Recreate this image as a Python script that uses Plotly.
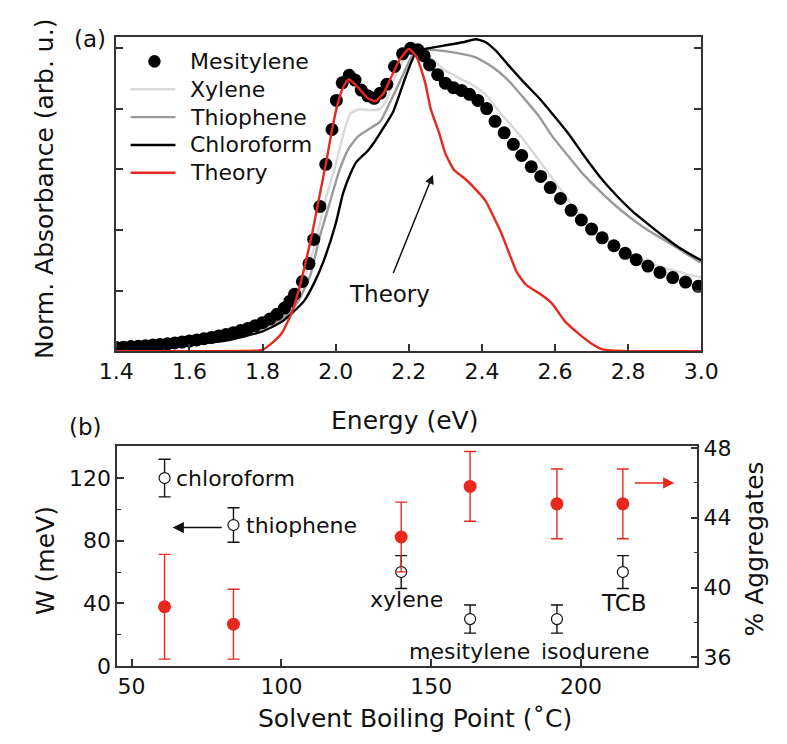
import plotly.graph_objects as go

FONT = "DejaVu Sans, Liberation Sans, Arial, sans-serif"
TXT = "#111111"
RED = "#e8281e"
XYL_C = "#d9d9d9"
THI_C = "#9a9a9a"
CHL_C = "#000000"

# ---------------- Panel (a): normalized absorbance spectra ----------------
mes_E = [1.40, 1.42, 1.44, 1.46, 1.48, 1.50, 1.52, 1.54, 1.56, 1.58, 1.60, 1.62,
         1.64, 1.66, 1.68, 1.70, 1.72, 1.74, 1.76, 1.78, 1.80, 1.82, 1.84, 1.86,
         1.875, 1.888, 1.909, 1.927, 1.940, 1.957, 1.973, 1.990, 2.002, 2.018,
         2.037, 2.053, 2.070, 2.088, 2.105, 2.122, 2.140, 2.161, 2.183, 2.205,
         2.225, 2.242, 2.257, 2.279, 2.300, 2.322, 2.344, 2.366, 2.389, 2.413,
         2.436, 2.461, 2.486, 2.509, 2.535, 2.561, 2.587, 2.615, 2.644, 2.672,
         2.700, 2.729, 2.761, 2.792, 2.822, 2.854, 2.887, 2.922, 2.957, 2.992]
mes_A = [0.012, 0.013, 0.015, 0.016, 0.018, 0.020, 0.022, 0.024, 0.027, 0.030, 0.033, 0.037,
         0.041, 0.045, 0.050, 0.055, 0.061, 0.068, 0.075, 0.084, 0.094, 0.106, 0.122, 0.142,
         0.165, 0.188, 0.230, 0.289, 0.369, 0.478, 0.617, 0.732, 0.828, 0.886,
         0.911, 0.895, 0.862, 0.843, 0.835, 0.852, 0.881, 0.940, 0.982, 1.000,
         0.995, 0.975, 0.945, 0.913, 0.885, 0.870, 0.861, 0.848, 0.828, 0.801,
         0.759, 0.721, 0.683, 0.646, 0.609, 0.577, 0.540, 0.504, 0.465, 0.433,
         0.403, 0.374, 0.348, 0.323, 0.302, 0.281, 0.260, 0.243, 0.228, 0.214]

xyl_E = [1.40, 1.50, 1.60, 1.70, 1.80, 1.85, 1.88, 1.90, 1.92, 1.94, 1.974, 2.000,
         2.022, 2.040, 2.062, 2.096, 2.122, 2.140, 2.157, 2.192, 2.220, 2.250, 2.296,
         2.348, 2.374, 2.409, 2.452, 2.513, 2.550, 2.592, 2.644, 2.696, 2.765, 2.852,
         2.939, 2.992, 3.000]
xyl_A = [0.010, 0.017, 0.028, 0.045, 0.080, 0.110, 0.145, 0.190, 0.260, 0.337, 0.508, 0.614,
         0.721, 0.785, 0.798, 0.796, 0.800, 0.830, 0.890, 0.975, 0.998, 0.980, 0.930,
         0.895, 0.880, 0.849, 0.785, 0.700, 0.640, 0.572, 0.486, 0.412, 0.348, 0.294,
         0.262, 0.246, 0.245]

thi_E = [1.40, 1.50, 1.60, 1.70, 1.80, 1.85, 1.88, 1.90, 1.931, 1.957, 1.983, 2.009,
         2.035, 2.062, 2.096, 2.122, 2.140, 2.174, 2.209, 2.230, 2.262, 2.330, 2.383,
         2.427, 2.470, 2.513, 2.557, 2.592, 2.635, 2.679, 2.722, 2.765, 2.809, 2.852,
         2.896, 2.939, 2.992, 3.000]
thi_A = [0.009, 0.015, 0.025, 0.040, 0.075, 0.105, 0.135, 0.170, 0.252, 0.380, 0.486, 0.593,
         0.668, 0.710, 0.737, 0.758, 0.800, 0.886, 0.975, 0.995, 0.995, 0.985, 0.970,
         0.940, 0.897, 0.838, 0.774, 0.710, 0.646, 0.582, 0.529, 0.481, 0.438, 0.401,
         0.369, 0.337, 0.297, 0.293]

chl_E = [1.40, 1.50, 1.60, 1.70, 1.80, 1.85, 1.88, 1.914, 1.94, 1.966, 2.000, 2.020,
         2.040, 2.057, 2.088, 2.105, 2.122, 2.157, 2.192, 2.218, 2.244, 2.296, 2.348,
         2.383, 2.410, 2.440, 2.470, 2.513, 2.557, 2.592, 2.635, 2.679, 2.722, 2.765,
         2.809, 2.852, 2.896, 2.939, 2.992, 3.000]
chl_A = [0.008, 0.014, 0.022, 0.035, 0.065, 0.095, 0.125, 0.166, 0.222, 0.294, 0.420, 0.520,
         0.585, 0.625, 0.662, 0.689, 0.721, 0.790, 0.908, 0.982, 0.998, 1.009, 1.020,
         1.030, 1.020, 0.990, 0.948, 0.890, 0.835, 0.785, 0.721, 0.646, 0.577, 0.518,
         0.465, 0.422, 0.380, 0.342, 0.305, 0.300]

th_E = [1.40, 1.60, 1.78, 1.80, 1.827, 1.853, 1.879, 1.896, 1.914, 1.936, 1.957, 1.975,
        1.990, 2.005, 2.020, 2.036, 2.062, 2.088, 2.109, 2.130, 2.154, 2.174, 2.200,
        2.221, 2.245, 2.260, 2.284, 2.300, 2.323, 2.357, 2.390, 2.410, 2.453, 2.495,
        2.520, 2.558, 2.592, 2.626, 2.662, 2.696, 2.730, 2.800, 3.000]
th_A = [0.000, 0.000, 0.001, 0.004, 0.028, 0.060, 0.124, 0.188, 0.273, 0.390, 0.520, 0.630,
        0.730, 0.815, 0.870, 0.898, 0.870, 0.835, 0.826, 0.850, 0.910, 0.960, 0.998,
        0.973, 0.886, 0.800, 0.717, 0.653, 0.600, 0.566, 0.525, 0.496, 0.390, 0.262,
        0.220, 0.190, 0.157, 0.100, 0.060, 0.028, 0.006, 0.000, 0.000]

legend_names = ["Mesitylene", "Xylene", "Thiophene", "Chloroform", "Theory"]

# ---------------- Panel (b): W and % aggregates vs boiling point ----------------
solvents = ["chloroform", "thiophene", "xylene", "mesitylene", "isodurene", "TCB"]
bp = [61, 84, 140, 163, 192, 214]
W = [120, 90, 60, 30, 30, 60]
W_err = [12, 11, 10.5, 9, 9, 10.5]
agg = [38.9, 37.9, 42.9, 45.8, 44.8, 44.8]
agg_err = [3.0, 2.0, 2.0, 2.0, 2.0, 2.0]

fig = go.Figure()

line_w = 2.4
fig.add_trace(go.Scatter(x=xyl_E, y=xyl_A, mode="lines", name="Xylene",
                         line=dict(color=XYL_C, width=line_w, shape="spline", smoothing=0.5)))
fig.add_trace(go.Scatter(x=thi_E, y=thi_A, mode="lines", name="Thiophene",
                         line=dict(color=THI_C, width=line_w, shape="spline", smoothing=0.5)))
fig.add_trace(go.Scatter(x=chl_E, y=chl_A, mode="lines", name="Chloroform",
                         line=dict(color=CHL_C, width=line_w, shape="spline", smoothing=0.5)))
fig.add_trace(go.Scatter(x=mes_E, y=mes_A, mode="markers", name="Mesitylene",
                         marker=dict(color="#000000", size=13, line=dict(width=0))))
fig.add_trace(go.Scatter(x=th_E, y=th_A, mode="lines", name="Theory",
                         line=dict(color=RED, width=line_w, shape="spline", smoothing=0.5)))

# panel (b)
fig.add_trace(go.Scatter(x=bp, y=W, mode="markers", xaxis="x2", yaxis="y2", name="W",
                         marker=dict(symbol="circle", size=11, color="white",
                                     line=dict(color="#111111", width=1.2)),
                         error_y=dict(type="data", array=W_err, color="#111111",
                                      thickness=1.4, width=6)))
fig.add_trace(go.Scatter(x=bp, y=agg, mode="markers", xaxis="x2", yaxis="y3", name="% Aggregates",
                         marker=dict(symbol="circle", size=13, color=RED, line=dict(width=0)),
                         error_y=dict(type="data", array=agg_err, color=RED,
                                      thickness=1.4, width=6)))

axcol = "#333333"
common = dict(showgrid=False, zeroline=False, showline=True, linecolor=axcol, linewidth=1.5,
              ticks="inside", tickcolor=axcol, tickwidth=1.5, ticklen=7,
              tickfont=dict(family=FONT, size=22, color=TXT))

W_px, H_px = 787, 744
def px(x):
    return x / W_px
def py(y):
    return 1 - y / H_px

fig.update_layout(
    width=W_px, height=H_px,
    margin=dict(l=0, r=0, t=0, b=0),
    paper_bgcolor="white", plot_bgcolor="white",
    font=dict(family=FONT, color=TXT),
    showlegend=False,
    xaxis=dict(domain=[px(103), px(716)], range=[1.4, 3.0], anchor="y",
               tick0=1.4, dtick=0.2, tickformat=".1f", mirror=True, **common),
    yaxis=dict(domain=[py(352), py(28)], range=[0, 1.037], anchor="x",
               tickvals=[0, 0.2, 0.4, 0.6, 0.8, 1.0], showticklabels=False,
               mirror="ticks", **common),
    xaxis2=dict(domain=[px(104), px(712)], range=[45.2, 238.9], anchor="y2",
                tickvals=[50, 100, 150, 200], mirror=True, **common),
    yaxis2=dict(domain=[py(677), py(450)], range=[0, 140.4], anchor="x2",
                tickvals=[0, 40, 80, 120],
                minor=dict(tickvals=[20, 60, 100], ticks="inside", ticklen=4,
                           tickcolor=axcol, tickwidth=1.2),
                **common),
    yaxis3=dict(range=[35.5, 48.11], overlaying="y2", side="right", anchor="x2",
                tickvals=[36, 40, 44, 48],
                minor=dict(tickvals=[38, 42, 46], ticks="inside", ticklen=4,
                           tickcolor=axcol, tickwidth=1.2),
                **common),
)

annots = []
shapes = []
def label(x, y, text, size, xref="paper", yref="paper", xanchor="center", angle=0):
    annots.append(dict(x=x, y=y, xref=xref, yref=yref, text=text, showarrow=False,
                       xanchor=xanchor, yanchor="middle", textangle=angle,
                       font=dict(family=FONT, size=size, color=TXT)))

# axis titles and panel labels
label(px(405), py(424), "Energy (eV)", 25)
label(px(28), py(185), "Norm. Absorbance (arb. u.)", 25, angle=-90)
label(px(416), py(731), "Solvent Boiling Point (˚C)", 25)
label(px(29), py(568), "W (meV)", 25, angle=-90)
label(px(772), py(556), "% Aggregates", 25, angle=-90)
label(px(75), py(30), "(a)", 23)
label(px(71), py(430), "(b)", 23)

# manual legend for panel (a)
leg_styles = [("marker", "#000000"), ("line", XYL_C), ("line", THI_C),
              ("line", CHL_C), ("line", RED)]
for i, (name, (kind, col)) in enumerate(zip(legend_names, leg_styles)):
    yc = 53 + 28.75 * i
    if kind == "marker":
        r = 6.5
        shapes.append(dict(type="circle", xref="paper", yref="paper",
                           x0=px(143 - r), x1=px(143 + r), y0=py(yc + r), y1=py(yc - r),
                           fillcolor=col, line=dict(width=0)))
    else:
        shapes.append(dict(type="line", xref="paper", yref="paper",
                           x0=px(118), x1=px(165), y0=py(yc), y1=py(yc),
                           line=dict(color=col, width=line_w)))
    label(px(178), py(yc), name, 22, xanchor="left")

# panel (a) annotation
label(2.148, 0.19, "Theory", 23, xref="x", yref="y")
annots.append(dict(x=2.266, y=0.582, ax=2.156, ay=0.253, xref="x", yref="y",
                   axref="x", ayref="y", text="", showarrow=True, arrowhead=2,
                   arrowsize=1.2, arrowwidth=1.5, arrowcolor="#111111", standoff=0))

# panel (b) solvent labels
label(64.0, 120, "chloroform", 22, xref="x2", yref="y2", xanchor="left")
label(87.6, 90, "thiophene", 22, xref="x2", yref="y2", xanchor="left")
label(141.7, 42.7, "xylene", 22, xref="x2", yref="y2")
label(162.8, 9.3, "mesitylene", 22, xref="x2", yref="y2")
label(205.0, 9.3, "isodurene", 22, xref="x2", yref="y2")
label(214.3, 40.2, "TCB", 23, xref="x2", yref="y2")

annots.append(dict(x=63.7, y=88.4, ax=80.6, ay=88.4, xref="x2", yref="y2",
                   axref="x2", ayref="y2", text="", showarrow=True, arrowhead=2,
                   arrowsize=1.5, arrowwidth=1.5, arrowcolor="#111111", standoff=0))
annots.append(dict(x=231.2, y=46.0, ax=217.5, ay=46.0, xref="x2", yref="y3",
                   axref="x2", ayref="y3", text="", showarrow=True, arrowhead=2,
                   arrowsize=1.5, arrowwidth=1.5, arrowcolor=RED, standoff=0))

fig.update_layout(annotations=annots, shapes=shapes)
fig.write_html("out.html")
